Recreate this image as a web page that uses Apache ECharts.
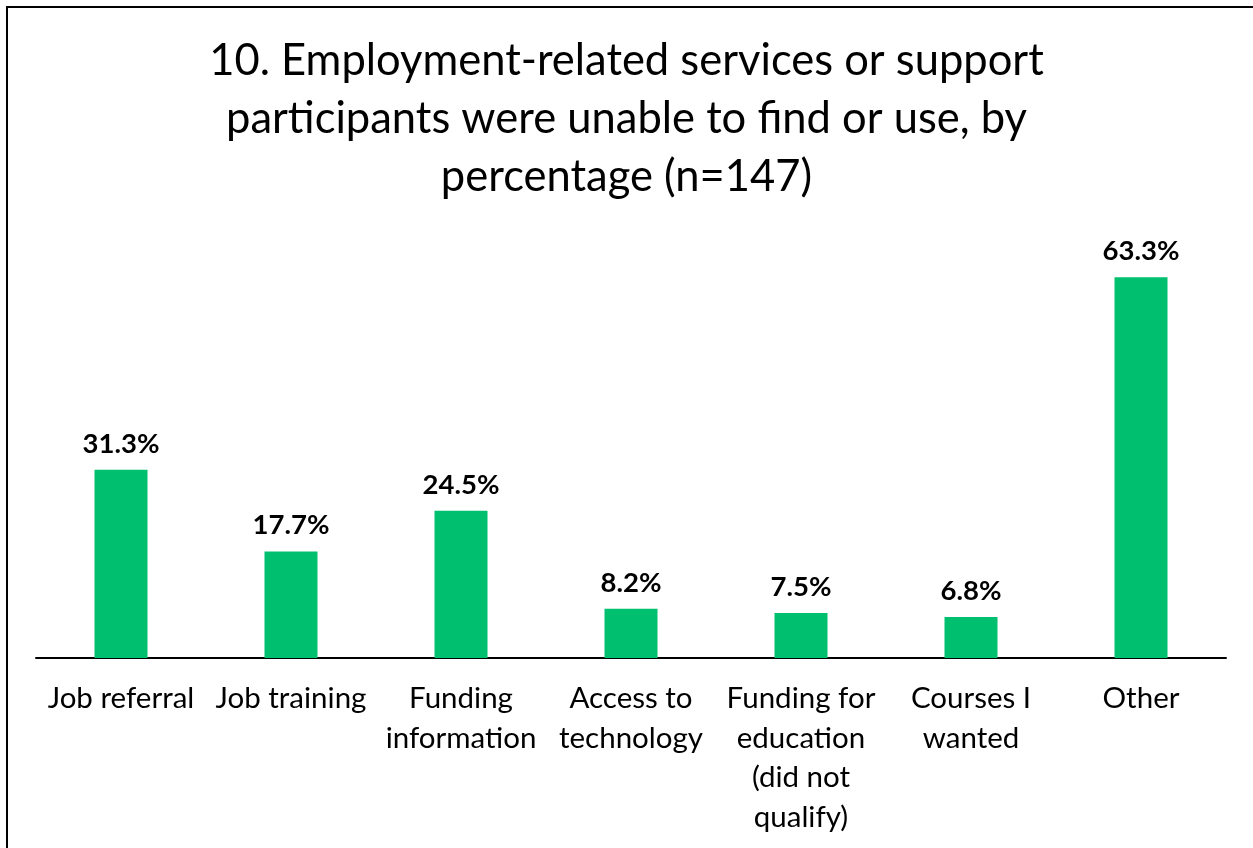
<!DOCTYPE html>
<html>
<head>
<meta charset="utf-8">
<script src="https://cdn.jsdelivr.net/npm/echarts@6/dist/echarts.min.js"></script>
<style>
  html, body { margin: 0; padding: 0; background: #fff; }
  #chart { width: 1253px; height: 848px; }
</style>
</head>
<body>
<div id="chart"></div>
<script>
// Survey categories (axis labels, wrapped as shown under each bar)
const categories = [
  'Job referral',
  'Job training',
  'Funding\ninformation',
  'Access to\ntechnology',
  'Funding for\neducation\n(did not\nqualify)',
  'Courses I\nwanted',
  'Other'
];

// Share of participants (%) per category
const percentages = [31.3, 17.7, 24.5, 8.2, 7.5, 6.8, 63.3];

const titleLines = [
  '10. Employment-related services or support',
  'participants were unable to find or use, by',
  'percentage (n=147)'
];

const fontFamily = 'Lato, "Open Sans", "Liberation Sans", sans-serif';

const chart = echarts.init(document.getElementById('chart'));
chart.setOption({
  backgroundColor: '#ffffff',
  animation: false,
  title: {
    text: titleLines.join('\n'),
    left: 'center',
    top: 27,
    textStyle: {
      fontFamily: fontFamily,
      fontSize: 43.5,
      fontWeight: 'normal',
      color: '#000',
      lineHeight: 58
    }
  },
  graphic: [{
    type: 'rect',
    shape: { x: 7, y: 7, width: 1300, height: 900 },
    style: { fill: 'none', stroke: '#000', lineWidth: 2 },
    silent: true
  }],
  grid: {
    left: 36,
    right: 27,
    top: 237,
    bottom: 190
  },
  xAxis: {
    type: 'category',
    data: categories,
    axisLine: { show: true, lineStyle: { color: '#000', width: 2 } },
    axisTick: { show: false },
    axisLabel: {
      interval: 0,
      margin: 21,
      fontFamily: fontFamily,
      fontSize: 29.5,
      lineHeight: 39.5,
      color: '#000'
    }
  },
  yAxis: {
    type: 'value',
    min: 0,
    max: 70,
    show: false,
    splitLine: { show: false }
  },
  series: [{
    type: 'bar',
    data: percentages,
    barWidth: 53,
    itemStyle: { color: '#00BF6F' },
    label: {
      show: true,
      position: 'top',
      distance: 12,
      formatter: p => p.value.toFixed(1) + '%',
      fontFamily: fontFamily,
      fontSize: 27.5,
      fontWeight: 'bold',
      color: '#000'
    }
  }]
});
</script>
</body>
</html>
